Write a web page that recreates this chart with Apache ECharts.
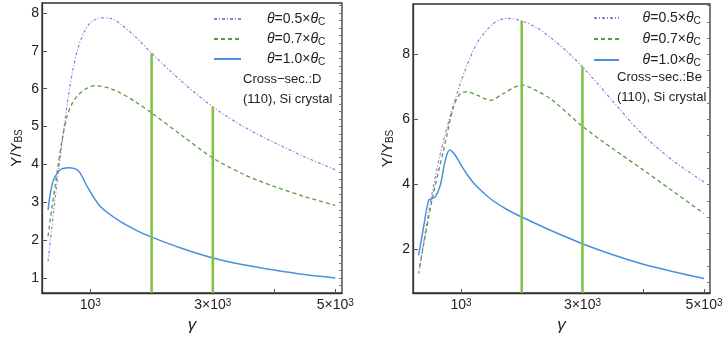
<!DOCTYPE html>
<html><head><meta charset="utf-8">
<script src="https://cdn.jsdelivr.net/npm/echarts@6/dist/echarts.min.js"></script>
<style>html,body{margin:0;padding:0;background:#fff}#c{width:727px;height:339px}</style>
</head><body><div id="c"></div><script>
// ---- data ----
const seriesNames = ['θ=0.5×θC', 'θ=0.7×θC', 'θ=1.0×θC'];
const legendFactors = ['0.5', '0.7', '1.0'];
const crossSecLeft = ['Cross\u2212sec.:D', '(110), Si crystal'];
const crossSecRight = ['Cross\u2212sec.:Be', '(110), Si crystal'];
const xLabelValues = [1000, 3000, 5000];
const xTickValues = [1000, 2000, 3000, 4000, 5000];
const yLabelsLeft = [1, 2, 3, 4, 5, 6, 7, 8];
const yLabelsRight = [2, 4, 6, 8];
const markGamma = [2000, 3000];
const markTopLeft = [6.94, 5.52];
const markTopRight = [9.03, 7.62];

// left panel (Cross-sec.: D)
const leftP05 = [[309,1.44],[400,2.75],[480,3.85],[560,4.85],[640,5.8],[720,6.55],[800,7.08],[900,7.5],[1000,7.74],[1163,7.87],[1350,7.85],[1500,7.70],[1750,7.35],[2000,6.94],[2500,6.18],[3000,5.52],[3500,5.0],[4000,4.58],[4500,4.2],[5000,3.86]];
const leftP07 = [[309,2.10],[375,2.89],[456,3.77],[538,4.65],[620,5.27],[700,5.6],[783,5.80],[900,5.97],[1082,6.08],[1300,6.02],[1500,5.88],[1750,5.64],[2000,5.36],[2500,4.76],[3000,4.17],[3500,3.74],[4000,3.42],[4500,3.15],[5000,2.92]];
const leftP10 = [[309,2.80],[347,3.25],[401,3.60],[510,3.86],[646,3.91],[810,3.82],[946,3.42],[1163,2.89],[1500,2.48],[1750,2.26],[2000,2.08],[2500,1.78],[3000,1.53],[3500,1.35],[4000,1.21],[4500,1.09],[5000,1.0]];
// right panel (Cross-sec.: Be)
const rightP05 = [[303,1.26],[523,3.72],[714,5.36],[989,7.11],[1263,8.34],[1536,8.95],[1757,9.11],[2000,9.03],[2250,8.82],[2500,8.48],[2750,8.08],[3000,7.62],[3250,7.1],[3500,6.56],[4000,5.52],[4500,4.72],[5000,4.08]];
const rightP07 = [[319,1.46],[523,3.52],[714,5.06],[878,6.39],[989,6.80],[1099,6.85],[1263,6.75],[1482,6.59],[1701,6.80],[2000,7.06],[2250,6.88],[2500,6.6],[3000,5.79],[3500,5.1],[4000,4.45],[4500,3.78],[5000,3.11]];
const rightP10 = [[303,1.82],[385,2.70],[467,3.52],[523,3.57],[577,3.62],[660,3.98],[742,4.75],[813,5.06],[906,4.90],[1000,4.6],[1100,4.31],[1250,3.96],[1500,3.54],[1750,3.24],[2000,3.0],[2500,2.57],[3000,2.18],[3500,1.84],[4000,1.55],[4500,1.32],[5000,1.11]];

// ---- styling ----
const FONT = '"Liberation Sans", Arial, sans-serif';
const colors = ['#9a78e0', '#5b9a45', '#4a8fe0'];
const dashes = [[3, 2, 1, 2], [4, 3], 'solid'];
const widths = [1.2, 1.3, 1.5];
const markColor = '#80c342';
const frame = '#333';

const ranges = [
  {xmin: 210, xmax: 5110, ymin: 0.604, ymax: 8.264, minorStep: 0.2, labels: yLabelsLeft},
  {xmin: 210, xmax: 5100, ymin: 0.665, ymax: 9.55, minorStep: 0.5, labels: yLabelsRight}
];
const grids = [
  {left: 42, top: 3, width: 300, height: 290},
  {left: 413, top: 4, width: 297, height: 289}
];

function minorTicks(r) {
  const out = [];
  const start = Math.ceil(r.ymin / r.minorStep) * r.minorStep;
  for (let v = start; v <= r.ymax + 1e-9; v += r.minorStep) out.push(+v.toFixed(3));
  return out;
}

const xAxes = [], yAxes = [];
ranges.forEach((r, i) => {
  xAxes.push({
    type: 'value', gridIndex: i, min: r.xmin, max: r.xmax,
    axisLine: {show: true, onZero: false, lineStyle: {color: frame, width: 1.3}},
    splitLine: {show: false},
    axisTick: {show: true, inside: true, length: 4, customValues: xTickValues, lineStyle: {color: '#555'}},
    axisLabel: {
      customValues: xLabelValues, margin: 5,
      formatter: v => (v === 1000 ? '{b|10}{p|3}' : '{b|' + (v / 1000) + '×10}{p|3}'),
      rich: {
        b: {fontSize: 14, fontFamily: FONT, color: '#222'},
        p: {fontSize: 10, fontFamily: FONT, color: '#222', verticalAlign: 'top'}
      }
    },
    name: 'γ', nameLocation: 'middle', nameGap: 19,
    nameTextStyle: {fontSize: 17, fontStyle: 'italic', fontFamily: FONT, color: '#222'}
  });
  yAxes.push({
    type: 'value', gridIndex: i, min: r.ymin, max: r.ymax,
    axisLine: {show: true, onZero: false, lineStyle: {color: frame, width: 1.3}},
    splitLine: {show: false},
    axisTick: {show: true, inside: true, length: 5, customValues: r.labels, lineStyle: {color: '#555'}},
    axisLabel: {customValues: r.labels, margin: 3, fontSize: 14, fontFamily: FONT, color: '#222'},
    name: '{a|Y/Y}{s|BS}', nameLocation: 'middle', nameGap: 18, nameRotate: 90,
    nameTextStyle: {
      rich: {
        a: {fontSize: 15, fontFamily: FONT, color: '#222'},
        s: {fontSize: 10, fontFamily: FONT, color: '#222', verticalAlign: 'bottom'}
      }
    }
  });
  yAxes.push({
    type: 'value', gridIndex: i, min: r.ymin, max: r.ymax,
    axisLine: {show: false}, splitLine: {show: false}, axisLabel: {show: false},
    axisTick: {show: true, inside: true, length: 3, customValues: minorTicks(r), lineStyle: {color: '#777'}}
  });
});

const panelData = [[leftP05, leftP07, leftP10], [rightP05, rightP07, rightP10]];
const markTops = [markTopLeft, markTopRight];
const series = [];
panelData.forEach((sets, p) => {
  sets.forEach((d, k) => {
    series.push({
      type: 'line', name: seriesNames[k], xAxisIndex: p, yAxisIndex: p * 2,
      data: d, symbol: 'none', smooth: 0.3, z: 3,
      lineStyle: {color: colors[k], type: dashes[k], width: widths[k]},
      itemStyle: {color: colors[k]}
    });
  });
  markGamma.forEach((g, m) => {
    series.push({
      type: 'line', name: 'mark' + p + m, xAxisIndex: p, yAxisIndex: p * 2,
      data: [[g, ranges[p].ymin], [g, markTops[p][m]]], symbol: 'none', z: 4,
      lineStyle: {color: markColor, width: 2.6}, silent: true
    });
  });
});

function makeLegend(left, top, spacerText, gap, iw) {
  return {
    data: seriesNames, orient: 'vertical', left: left, top: top, padding: 0,
    itemWidth: iw, itemHeight: 14, itemGap: gap, selectedMode: false,
    itemStyle: {color: 'rgba(0,0,0,0)', borderColor: 'rgba(0,0,0,0)', borderWidth: 0, opacity: 0},
    formatter: name => {
      const k = seriesNames.indexOf(name);
      return '{sp|' + spacerText + '}{i|θ}{n|=' + legendFactors[k] + '×}{i|θ}{sub|C}';
    },
    textStyle: {
      lineHeight: 16,
      rich: {
        sp: {fontSize: 14, lineHeight: 16, fontFamily: '"DejaVu Sans"'},
        i: {fontSize: 14, lineHeight: 16, fontStyle: 'italic', fontFamily: FONT, color: '#222'},
        n: {fontSize: 14, lineHeight: 16, fontFamily: FONT, color: '#222'},
        sub: {fontSize: 10, lineHeight: 16, fontFamily: FONT, color: '#222', verticalAlign: 'bottom', padding: [3, 0, 0, 0]}
      }
    }
  };
}

const texts = [];
[[crossSecLeft, 243, 73], [crossSecRight, 617, 71]].forEach(([lines, x, y]) => {
  lines.forEach((t, j) => texts.push({
    type: 'text', left: x, top: y + j * 20,
    style: {text: t, font: '13px ' + FONT, fill: '#222'}
  }));
});

const chart = echarts.init(document.getElementById('c'), null, {renderer: 'canvas'});
chart.setOption({
  backgroundColor: '#fff',
  animation: false,
  grid: grids.map(g => Object.assign({show: true, borderColor: frame, borderWidth: 1.3, backgroundColor: 'transparent'}, g)),
  xAxis: xAxes,
  yAxis: yAxes,
  legend: [makeLegend(213, 11, '\u2003\u2002', 4, 27), makeLegend(593, 10, '\u2003\u2004', 5, 25)],
  graphic: texts,
  series: series
});
</script></body></html>
